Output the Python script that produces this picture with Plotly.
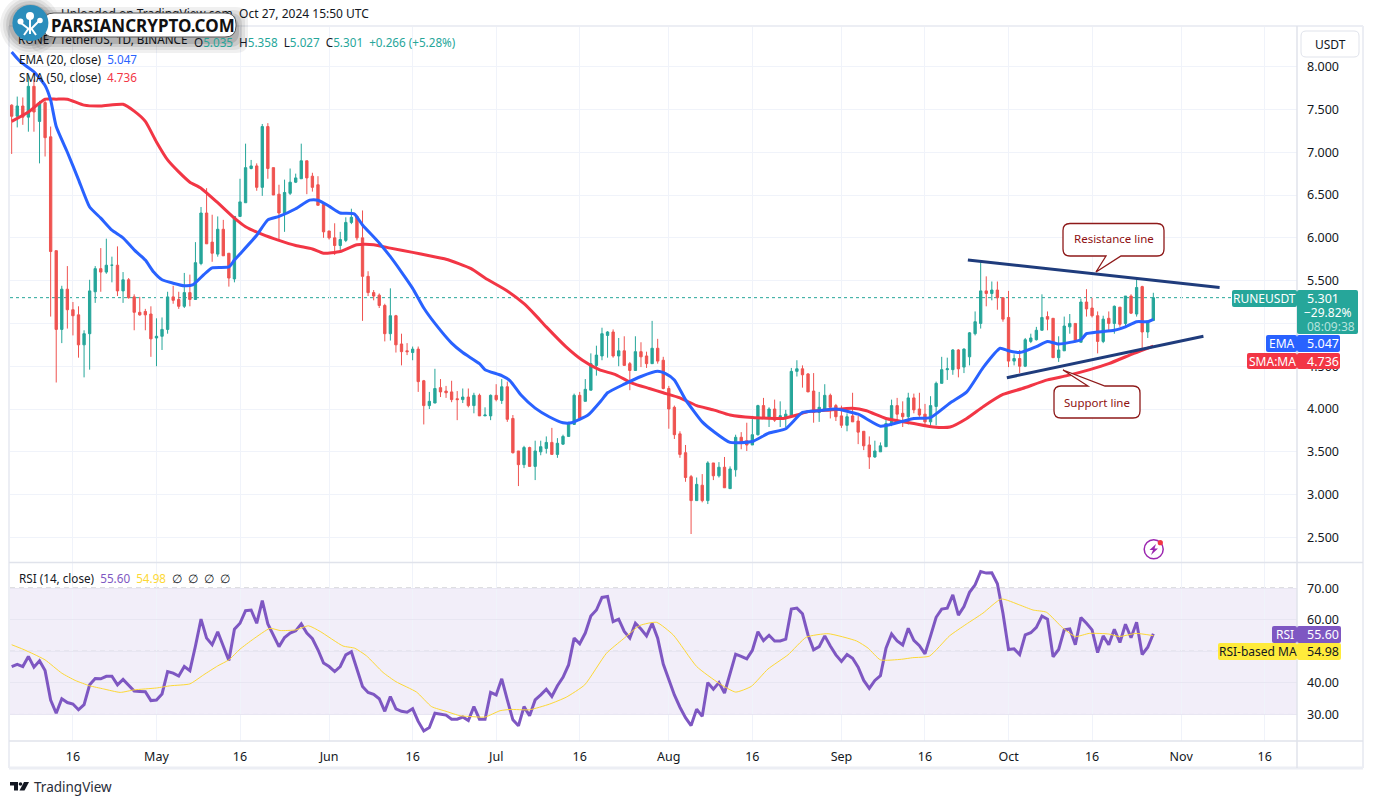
import pandas as pd
import plotly.graph_objects as go

W, H = 1373, 804
START = pd.Timestamp("2024-04-05")

opens = [
 7.55,7.42,7.54,7.41,7.77,7.36,7.58,7.18,5.85,4.93,
 5.40,5.16,5.10,4.75,4.88,5.37,5.64,5.60,5.68,5.68,
 5.38,5.51,5.31,5.13,5.14,5.11,4.83,4.85,4.93,5.31,
 5.28,5.20,5.36,5.28,5.70,6.29,5.95,5.81,6.10,5.82,
 5.52,6.25,6.41,6.81,6.84,6.59,7.30,6.82,6.51,6.29,
 6.52,6.65,6.69,6.90,6.72,6.62,6.39,6.08,6.00,5.91,
 5.97,6.18,6.25,6.00,5.55,5.36,5.33,5.21,4.88,5.09,
 4.76,4.68,4.66,4.70,4.33,4.04,4.07,4.25,4.21,4.20,
 4.12,4.11,4.14,4.04,4.16,3.92,3.92,4.16,4.10,4.26,
 3.89,3.51,3.35,3.55,3.33,3.50,3.54,3.61,3.47,3.59,
 3.68,3.82,4.16,4.09,4.22,4.51,4.62,4.86,4.90,4.62,
 4.68,4.53,4.45,4.67,4.62,4.53,4.71,4.57,4.24,4.02,
 3.71,3.49,3.21,2.93,3.11,2.93,3.37,3.22,3.32,3.07,
 3.29,3.67,3.63,3.58,3.70,4.04,3.90,4.00,3.91,3.90,
 3.92,4.44,4.47,4.41,4.21,3.96,4.00,4.16,4.04,3.92,
 3.81,3.92,3.86,3.74,3.58,3.44,3.50,3.56,3.82,4.04,
 3.95,3.91,4.13,4.00,3.94,3.85,4.03,4.30,4.46,4.46,
 4.69,4.49,4.61,4.88,5.00,5.38,5.35,5.39,5.30,5.07,
 4.56,4.59,4.50,4.79,4.81,4.92,5.08,5.06,4.60,4.68,
 4.96,5.00,4.78,5.25,5.18,5.09,4.79,5.06,5.00,5.19,
 5.00,5.32,5.11,5.43,4.90,5.035]
closes = [
 7.42,7.54,7.41,7.77,7.47,7.58,7.17,5.84,4.93,5.40,
 5.16,5.09,4.75,4.88,5.38,5.64,5.60,5.68,5.68,5.38,
 5.51,5.30,5.13,5.10,5.10,4.82,4.85,4.93,5.31,5.27,
 5.20,5.36,5.28,5.71,6.29,5.93,5.82,6.10,5.79,5.53,
 6.25,6.42,6.82,6.84,6.59,7.30,6.81,6.50,6.29,6.53,
 6.65,6.70,6.90,6.70,6.59,6.38,6.07,6.00,5.91,5.98,
 6.18,6.24,6.00,5.55,5.36,5.32,5.21,4.88,5.09,4.75,
 4.67,4.67,4.70,4.32,4.04,4.09,4.24,4.20,4.19,4.11,
 4.11,4.14,4.04,4.16,3.92,3.93,4.16,4.11,4.26,3.88,
 3.49,3.35,3.55,3.33,3.51,3.56,3.61,3.47,3.60,3.68,
 3.84,4.16,3.89,4.23,4.53,4.63,4.88,4.90,4.62,4.68,
 4.51,4.45,4.67,4.61,4.53,4.71,4.56,4.24,4.00,3.70,
 3.47,3.20,2.93,3.12,2.93,3.37,3.22,3.32,3.08,3.30,
 3.67,3.60,3.58,3.70,4.04,3.90,4.00,3.87,3.92,3.94,
 4.44,4.47,4.40,4.20,3.96,4.02,4.16,4.02,3.91,3.81,
 3.91,3.85,3.73,3.57,3.44,3.51,3.57,3.83,4.04,3.94,
 3.91,4.13,3.99,3.93,3.85,4.04,4.30,4.46,4.47,4.69,
 4.47,4.70,4.89,5.02,5.38,5.35,5.39,5.30,5.05,4.56,
 4.59,4.50,4.81,4.83,4.92,5.07,5.05,4.60,4.69,4.97,
 5.00,4.79,5.25,5.17,5.09,4.79,5.05,5.00,5.20,4.99,
 5.32,5.12,5.42,4.90,5.03,5.301]
highs = [
 7.56,7.65,7.64,7.90,7.85,7.60,7.63,7.30,5.85,5.44,
 5.67,5.25,5.20,4.92,5.51,5.67,5.88,5.99,5.78,5.90,
 5.60,5.53,5.34,5.31,5.17,5.20,5.06,5.07,5.37,5.44,
 5.37,5.59,5.57,5.95,6.36,6.58,6.27,6.25,6.21,5.82,
 6.25,6.69,7.10,6.91,6.87,7.33,7.34,6.82,6.62,6.68,
 6.81,6.75,7.10,6.90,6.76,6.72,6.39,6.08,6.17,6.07,
 6.24,6.34,6.27,6.32,5.61,5.39,5.35,5.23,5.41,5.10,
 4.88,4.77,4.73,4.73,4.34,4.20,4.47,4.35,4.27,4.33,
 4.21,4.24,4.24,4.19,4.18,4.02,4.17,4.29,4.35,4.32,
 3.93,3.51,3.57,3.56,3.63,3.63,3.68,3.78,3.66,3.70,
 3.85,4.18,4.20,4.35,4.65,4.74,4.95,4.91,4.93,4.83,
 4.85,4.55,4.85,4.78,4.67,5.03,4.82,4.61,4.27,4.04,
 3.74,3.58,3.23,3.20,3.24,3.39,3.37,3.38,3.44,3.33,
 3.70,3.73,3.84,3.92,4.05,4.13,4.02,4.11,4.09,3.99,
 4.48,4.57,4.51,4.42,4.42,4.20,4.29,4.18,4.06,4.04,
 3.95,4.19,3.92,3.74,3.68,3.63,3.61,3.89,4.11,4.13,
 4.09,4.19,4.18,4.19,4.06,4.15,4.32,4.61,4.60,4.70,
 4.70,4.71,4.90,5.14,5.72,5.55,5.49,5.49,5.30,5.38,
 4.64,4.69,4.83,4.88,4.96,5.34,5.14,5.06,4.85,5.08,
 5.11,5.00,5.29,5.40,5.30,5.14,5.09,5.14,5.21,5.19,
 5.32,5.34,5.53,5.44,5.03,5.358]
lows = [
 6.98,7.29,7.32,7.24,7.24,6.87,6.95,5.08,4.31,4.77,
 4.94,4.86,4.60,4.37,4.46,5.24,5.37,5.58,5.48,5.32,
 5.24,5.29,4.92,5.09,4.92,4.61,4.50,4.69,4.88,5.23,
 5.17,5.18,5.20,5.28,5.68,5.93,5.72,5.78,5.79,5.43,
 5.48,6.25,6.41,6.80,6.55,6.49,6.69,6.50,5.97,6.07,
 6.50,6.64,6.69,6.51,6.54,6.38,6.00,5.98,5.80,5.86,
 5.95,6.16,5.97,5.03,5.32,5.27,5.18,4.79,4.80,4.66,
 4.51,4.63,4.57,4.20,3.82,4.00,4.07,4.14,4.13,4.08,
 3.87,4.07,4.02,3.95,3.92,3.92,3.87,4.09,4.06,3.85,
 3.48,3.10,3.31,3.33,3.17,3.46,3.48,3.47,3.43,3.58,
 3.68,3.82,3.87,4.09,4.22,4.39,4.57,4.60,4.60,4.50,
 4.51,4.22,4.45,4.49,4.48,4.53,4.53,4.23,3.77,3.65,
 3.43,3.15,2.54,2.93,2.91,2.89,3.17,3.20,3.08,3.07,
 3.21,3.53,3.51,3.58,3.69,3.90,3.79,3.85,3.79,3.79,
 3.92,4.38,4.25,4.20,3.84,3.85,4.00,3.89,3.86,3.78,
 3.74,3.85,3.59,3.52,3.30,3.43,3.50,3.56,3.80,3.85,
 3.79,3.82,3.95,3.91,3.81,3.80,3.81,4.30,4.34,4.40,
 4.37,4.42,4.51,4.86,4.94,5.20,5.27,5.16,5.02,4.49,
 4.51,4.42,4.49,4.77,4.80,4.92,4.92,4.60,4.55,4.68,
 4.88,4.78,4.78,5.08,5.07,4.65,4.77,4.90,4.88,4.96,
 4.96,5.11,5.08,4.69,4.83,5.027]

sma_day = [0,3,6,8,10,13,16,20,22,24,26,28,30,32,34,37,40,42,45,48,51,54,56,59,62,65,68,72,75,78,82.5,85,89,92,94,96,99.5,102.5,105.5,108.5,111.5,114.5,117,120,123,126,129,133,138.5,141,143,147,151,153.5,157,162,165.5,168.5,171.5,174.5,178,181.5,186,189.5,193.6,197,201.5,205]
sma_val = [7.36,7.47,7.62,7.62,7.62,7.55,7.54,7.56,7.48,7.36,7.12,6.91,6.77,6.65,6.58,6.41,6.23,6.13,6.04,5.97,5.91,5.87,5.82,5.84,5.92,5.92,5.88,5.83,5.79,5.75,5.64,5.53,5.38,5.23,5.10,4.96,4.73,4.57,4.46,4.40,4.30,4.24,4.19,4.13,4.04,3.99,3.93,3.90,3.89,3.93,3.97,3.99,4.01,3.98,3.89,3.83,3.79,3.79,3.89,4.03,4.17,4.24,4.34,4.39,4.46,4.53,4.65,4.736]

ema_day = [0,1.5,4,6,7,8,10,12,14,16,18,20,22,24,25.5,27,29,31,32.5,34.5,36,39,40,44,46,48,51,53.5,55,57,59,61.5,63,66,68,70,72,74,76,79,81,84,85,88,89.5,91.5,94,96.5,99,100.5,103.5,106,107,110,113,116,117.5,119,121,124,126,129,133,136,139,142,145,148,152,156,159,162,165,168.5,171.5,174.5,177.5,179,181,184,186,188,192,193,195,198,200,202,204,205]
ema_val = [8.17,8.06,7.94,7.78,7.61,7.30,7.00,6.68,6.36,6.23,6.09,6.00,5.86,5.74,5.60,5.51,5.47,5.44,5.45,5.57,5.65,5.66,5.74,6.03,6.21,6.25,6.34,6.44,6.44,6.37,6.29,6.28,6.15,5.94,5.78,5.60,5.41,5.18,5.00,4.77,4.66,4.53,4.46,4.39,4.33,4.16,4.01,3.91,3.84,3.84,3.93,4.11,4.19,4.29,4.38,4.44,4.41,4.34,4.11,3.85,3.74,3.61,3.62,3.72,3.77,3.96,3.98,4.00,3.94,3.80,3.84,3.89,3.90,4.07,4.20,4.49,4.71,4.68,4.66,4.73,4.79,4.76,4.81,4.88,4.90,4.92,4.96,5.02,5.02,5.047]

rsi_val = [
 45.2,45.9,45.2,48.4,45.0,47.0,43.9,34.6,30.4,35.0,
 33.8,33.3,31.5,33.1,39.4,41.4,41.3,42.1,42.1,39.4,
 41.1,39.1,37.4,37.3,37.2,34.4,34.6,36.5,43.6,43.1,
 42.2,45.2,43.9,51.7,60.2,54.2,52.1,56.2,51.5,47.1,
 57.0,58.9,62.9,63.1,58.9,66.1,58.7,54.9,51.5,54.4,
 55.8,56.5,58.7,55.8,54.0,50.5,46.3,45.2,43.6,45.2,
 48.9,49.9,44.7,38.9,37.0,36.4,35.0,31.0,35.7,31.8,
 31.0,30.7,31.8,27.8,24.8,25.9,30.4,30.0,29.8,28.5,
 28.5,29.2,28.1,32.5,28.5,28.5,37.0,36.2,41.3,34.6,
 28.3,26.4,32.5,29.6,34.6,36.2,38.0,35.7,39.1,41.8,
 45.7,54.2,52.4,55.8,61.2,63.1,67.1,67.4,59.4,60.2,
 56.3,54.2,58.9,57.1,54.9,58.9,54.2,46.0,41.0,36.2,
 32.3,29.0,26.5,31.7,29.4,40.1,38.0,40.1,36.8,42.6,
 49.1,48.4,47.6,50.3,56.2,53.4,55.1,53.3,53.3,53.9,
 63.4,63.7,61.9,55.2,50.5,51.5,54.9,51.7,48.9,46.8,
 49.0,47.8,45.0,40.8,38.3,40.8,42.3,51.0,55.5,53.3,
 52.0,57.3,53.5,51.8,49.2,54.9,60.8,63.4,63.7,67.9,
 61.5,64.2,68.7,71.1,75.3,74.8,74.9,71.4,62.1,50.6,
 50.8,49.0,55.2,55.9,57.6,61.2,60.2,48.3,50.6,56.8,
 57.1,52.1,60.7,58.9,56.8,49.6,54.9,52.1,57.0,52.8,
 58.6,54.3,59.2,49.0,51.3,55.60]

rsi_ma_day = [0,2,4,6,9,11.4,14,16.5,19.5,22,26,28.5,32,34.5,37,39,41,43.4,46.4,48.2,51,53.3,55.4,59.5,61.6,63.7,66.7,69,72.7,75.4,78,80.5,82,85,87.7,89.5,93,96.6,99.6,102.9,106.8,109.8,112.8,115.8,118.8,123,127,130,132.8,135.8,139.4,142.7,146.6,151.7,153.8,156,159.8,161.8,164.8,168.4,171.4,174.4,177.7,181,183.4,185.8,188.7,191,193.5,197,198.9,201.9,205]
rsi_ma_val = [52.1,50.7,49.1,47.3,43.1,40.8,39.1,38.1,37.0,37.8,38.4,39.1,39.7,42.6,45.4,47.3,50.7,53.9,57.3,56.6,56.8,58.1,56.3,51.7,51.0,48.6,43.3,40.4,37.1,32.5,31.0,29.6,29.4,29.2,31.2,31.6,31.5,33.3,35.5,39.4,49.4,53.9,58.2,59.2,55.2,45.2,39.9,37.1,38.9,44.4,48.9,54.5,55.6,53.3,51.0,47.3,47.5,48.0,48.5,54.9,58.6,62.1,66.6,64.7,63.1,62.4,57.5,54.7,55.7,55.5,54.7,55.7,54.98]

resistance_day = [171.7, 216.9]
resistance_val = [5.74, 5.42]
support_day = [178.7, 214.0]
support_val = [4.366, 4.85]

price_ticks = [2.5,3,3.5,4,4.5,5,5.5,6,6.5,7,7.5,8]
rsi_ticks = [30,40,60,70]
rsi_grid = [30,40,50,60,70]
date_ticks = ["2024-04-16","2024-05-01","2024-05-16","2024-06-01","2024-06-16","2024-07-01","2024-07-16",
              "2024-08-01","2024-08-16","2024-09-01","2024-09-16","2024-10-01","2024-10-16","2024-11-01","2024-11-16"]
date_labels = ["16","May","16","Jun","16","Jul","16","Aug","16","Sep","16","Oct","16","Nov","16"]

FONT = "Noto Sans"
INK = "#131722"
GRID = "#f0f3fa"
BORDER = "#e0e3eb"
FRAME = "#eceef4"
UP, DOWN = "#26a69a", "#ef5350"
BLUE, RED, PURPLE, YEL = "#2962ff", "#f23645", "#7e57c2", "#ffeb3b"

def day(d):
    return [START + pd.Timedelta(days=float(v)) for v in d]

dates = day(range(len(opens)))
x_range = [START + pd.Timedelta(days=-0.3), START + pd.Timedelta(days=230.8)]

fig = go.Figure()
fig.add_trace(go.Candlestick(x=dates, open=opens, high=highs, low=lows, close=closes,
    increasing=dict(line=dict(color=UP, width=1), fillcolor=UP),
    decreasing=dict(line=dict(color=DOWN, width=1), fillcolor=DOWN),
    showlegend=False, xaxis="x", yaxis="y"))
fig.add_trace(go.Scatter(x=day(sma_day), y=sma_val, mode="lines", line=dict(color=RED, width=3, shape="spline", smoothing=0.5), xaxis="x", yaxis="y", showlegend=False))
fig.add_trace(go.Scatter(x=day(ema_day), y=ema_val, mode="lines", line=dict(color=BLUE, width=3, shape="spline", smoothing=0.5), xaxis="x", yaxis="y", showlegend=False))
fig.add_trace(go.Scatter(x=day(resistance_day), y=resistance_val, mode="lines", line=dict(color="#1f3c7c", width=3), xaxis="x", yaxis="y", showlegend=False))
fig.add_trace(go.Scatter(x=day(support_day), y=support_val, mode="lines", line=dict(color="#1f3c7c", width=3), xaxis="x", yaxis="y", showlegend=False))
fig.add_trace(go.Scatter(x=dates, y=rsi_val, mode="lines", line=dict(color=PURPLE, width=3), xaxis="x2", yaxis="y2", showlegend=False))
fig.add_trace(go.Scatter(x=day(rsi_ma_day), y=rsi_ma_val, mode="lines", line=dict(color="#fdd835", width=1, shape="spline", smoothing=0.5), xaxis="x2", yaxis="y2", showlegend=False))

def X(p): return p / W
def Y(p): return 1 - p / H

# Header lines that sit under the watermark: free axes spanning the page in pixels
fig.add_trace(go.Scatter(x=[61], y=[15], mode="text", textposition="middle right",
    text=["Uploaded on TradingView.com, Oct 27, 2024 15:50 UTC"],
    textfont=dict(family=FONT, size=12, color=INK), xaxis="x3", yaxis="y3", showlegend=False, cliponaxis=False))
fig.add_trace(go.Scatter(x=[18], y=[41.5], mode="text", textposition="middle right",
    text=["RUNE / TetherUS, 1D, BINANCE"], textfont=dict(family=FONT, size=11.7, color=INK),
    xaxis="x3", yaxis="y3", showlegend=False, cliponaxis=False))

shapes, notes = [], []

def rrect(x0, y0, x1, y1, r):
    return (f"M {X(x0+r)} {Y(y0)} L {X(x1-r)} {Y(y0)} Q {X(x1)} {Y(y0)} {X(x1)} {Y(y0+r)} "
            f"L {X(x1)} {Y(y1-r)} Q {X(x1)} {Y(y1)} {X(x1-r)} {Y(y1)} "
            f"L {X(x0+r)} {Y(y1)} Q {X(x0)} {Y(y1)} {X(x0)} {Y(y1-r)} "
            f"L {X(x0)} {Y(y0+r)} Q {X(x0)} {Y(y0)} {X(x0+r)} {Y(y0)} Z")

def box(x0, y0, x1, y1, r=2, fill=None, line=None, lw=1):
    shapes.append(dict(type="path", xref="paper", yref="paper", path=rrect(x0, y0, x1, y1, r),
                       fillcolor=fill or "rgba(0,0,0,0)", line=dict(color=line or "rgba(0,0,0,0)", width=lw if line else 0), layer="above"))

def circle(cx, cy, r, fill=None, line=None, lw=1):
    shapes.append(dict(type="circle", xref="paper", yref="paper", x0=X(cx-r), x1=X(cx+r), y0=Y(cy+r), y1=Y(cy-r),
                       fillcolor=fill or "rgba(0,0,0,0)", line=dict(color=line or "rgba(0,0,0,0)", width=lw if line else 0), layer="above"))

def seg(x0, y0, x1, y1, color, lw=1, dash=None):
    shapes.append(dict(type="line", xref="paper", yref="paper", x0=X(x0), x1=X(x1), y0=Y(y0), y1=Y(y1),
                       line=dict(color=color, width=lw, dash=dash), layer="above"))

def poly(pts, fill=None, line=None, lw=1):
    p = "M " + " L ".join(f"{X(a)} {Y(b)}" for a, b in pts) + " Z"
    shapes.append(dict(type="path", xref="paper", yref="paper", path=p, fillcolor=fill or "rgba(0,0,0,0)",
                       line=dict(color=line or "rgba(0,0,0,0)", width=lw if line else 0), layer="above"))

def callout(x0, y0, x1, y1, r, tip, a, b, top):
    """Rounded box with a pointer to tip, the pointer's base between a and b on the top or bottom edge."""
    if top:
        mid = f"L {X(a)} {Y(y0)} L {X(tip[0])} {Y(tip[1])} L {X(b)} {Y(y0)} "
        low = ""
    else:
        mid = ""
        low = f"L {X(b)} {Y(y1)} L {X(tip[0])} {Y(tip[1])} L {X(a)} {Y(y1)} "
    p = (f"M {X(x0+r)} {Y(y0)} {mid}L {X(x1-r)} {Y(y0)} Q {X(x1)} {Y(y0)} {X(x1)} {Y(y0+r)} "
         f"L {X(x1)} {Y(y1-r)} Q {X(x1)} {Y(y1)} {X(x1-r)} {Y(y1)} {low}"
         f"L {X(x0+r)} {Y(y1)} Q {X(x0)} {Y(y1)} {X(x0)} {Y(y1-r)} "
         f"L {X(x0)} {Y(y0+r)} Q {X(x0)} {Y(y0)} {X(x0+r)} {Y(y0)} Z")
    shapes.append(dict(type="path", xref="paper", yref="paper", path=p, fillcolor="#ffffff",
                       line=dict(color="#8e1a1a", width=1.3), layer="above"))

def note(x, y, text, size=12, color=INK, anchor="left", family=FONT):
    notes.append(dict(xref="paper", yref="paper", x=X(x), y=Y(y), text=text, showarrow=False, xanchor=anchor, yanchor="middle",
                      font=dict(family=family, size=size, color=color), borderpad=0))

# Frame
seg(9, 26, 1363, 26, FRAME, 2)
seg(9, 768, 1363, 768, FRAME, 3)
seg(9, 26, 9, 768, FRAME, 2)
seg(1363, 26, 1363, 768, FRAME, 2)
seg(1297, 26, 1297, 768, BORDER, 1.5)
seg(9, 562.5, 1363, 562.5, BORDER, 1.5)
seg(9, 741, 1363, 741, BORDER, 1.5)

# below-trace shapes tied to the data axes
shapes.append(dict(type="line", xref="x domain", yref="y", x0=0, x1=1, y0=closes[-1], y1=closes[-1],
                   line=dict(color=UP, width=1, dash="dot"), layer="below"))
shapes.append(dict(type="rect", xref="x2 domain", yref="y2", x0=0, x1=1, y0=30, y1=70,
                   fillcolor="rgba(126,87,194,0.1)", line=dict(width=0), layer="below"))
for lv, col in ((70, "#787b86"), (50, "#a9abb3"), (30, "#787b86")):
    shapes.append(dict(type="line", xref="x2 domain", yref="y2", x0=0, x1=1, y0=lv, y1=lv,
                       line=dict(color=col, width=1, dash="5px,4px"), layer="below"))

# USDT button
box(1301, 31, 1359, 57, 5, "#ffffff", BORDER, 1)
note(1330, 45, "USDT", 12, INK, "center")

# Legend
note(18, 59.5, f"EMA (20, close)  <span style='color:{BLUE}'>5.047</span>", 11.7)
note(18, 76.5, f"SMA (50, close)  <span style='color:{RED}'>4.736</span>", 11.7)
note(18, 577.5, f"RSI (14, close)  <span style='color:{PURPLE}'>55.60</span>  <span style='color:#fdd835'>54.98</span>  <span style='color:#131722'>∅  ∅  ∅  ∅</span>", 11.7)
note(193, 41.5, f"O<span style='color:{UP}'>5.035</span>  H<span style='color:{UP}'>5.358</span>  L<span style='color:{UP}'>5.027</span>  C<span style='color:{UP}'>5.301</span>  <span style='color:{UP}'>+0.266 (+5.28%)</span>", 11.7)

# Price-axis tags
box(1232, 290, 1297, 307, 2, UP)
note(1264.5, 298.5, "RUNEUSDT", 12, "#ffffff", "center")
box(1297, 290, 1358, 334, 2, UP)
note(1306, 298.5, "5.301", 12.5, "#ffffff")
note(1303, 312, "−29.82%", 12, "#ffffff")
note(1306, 326, "08:09:38", 12, "#b5e3dd")
box(1266, 335, 1297, 352, 2, BLUE)
note(1281.5, 343.5, "EMA", 12, "#ffffff", "center")
box(1297, 335, 1340, 352, 2, BLUE)
note(1306, 343.5, "5.047", 12.5, "#ffffff")
box(1247, 353, 1297, 369, 2, RED)
note(1272, 361, "SMA:MA", 12, "#ffffff", "center")
box(1297, 353, 1340, 369, 2, RED)
note(1306, 361, "4.736", 12.5, "#ffffff")
box(1272, 626, 1297, 643, 2, PURPLE)
note(1284.5, 634.5, "RSI", 12, "#ffffff", "center")
box(1297, 626, 1341, 643, 2, PURPLE)
note(1306, 634.5, "55.60", 12.5, "#ffffff")
box(1218, 643, 1297, 660, 2, YEL)
note(1257.5, 651.5, "RSI-based MA", 12, INK, "center")
box(1297, 643, 1341, 660, 2, YEL)
note(1306, 651.5, "54.98", 12.5, INK)

# Callouts
callout(1063, 223.5, 1164, 256, 7, (1096, 272), 1106, 1121, False)
note(1113.5, 239, "Resistance line", 11.5, "#8e1010", "center")
callout(1054, 386, 1140, 418, 7, (1063, 370), 1088, 1105, True)
note(1097, 402, "Support line", 11.5, "#8e1010", "center")

# Flash icon
circle(1153.7, 549.3, 9.5, None, "#9c27b0", 1.5)
poly([(1156, 544), (1149.5, 550), (1153, 550), (1151, 555), (1158, 548.5), (1154.5, 548.5)], "#9c27b0")
circle(1160.3, 542.7, 2.6, "#f23645")

# TradingView logo
poly([(10, 782), (18, 782), (18, 790.5), (14, 790.5), (14, 785.5), (10, 785.5)], INK)
circle(20.5, 784, 1.8, INK)
poly([(24, 782), (29, 782), (24.5, 790.5), (19.5, 790.5)], INK)
note(33, 786.5, "TradingView", 13.5, "#2a2e39")

# Watermark
for k, a in ((12, .06), (9, .07), (6, .09), (3, .12)):
    box(43-k, 15-k+4, 236+k, 37+k+4, 12, f"rgba(0,0,0,{a})")
    circle(30, 25, 18+k, f"rgba(0,0,0,{a})")
box(43, 13, 236, 37, 11, "#ffffff", "#555555", 1)
circle(30.4, 23, 18, "#2b8dbb")
for (a, b, c, d) in ((30, 34, 30, 18), (30, 30, 21, 23), (30, 30, 39, 21), (24, 35, 29, 28), (36, 35, 31, 28)):
    seg(a, b, c, d, "#ffffff", 2)
circle(30, 16, 4, "#ffffff"); circle(20.5, 21.5, 3, "#ffffff"); circle(40, 20.5, 2.8, "#ffffff")
note(50, 25.5, "<b>PARSIANCRYPTO.COM</b>", 17, "#111111")

axis_common = dict(tickmode="array", tickvals=date_ticks, range=x_range, showgrid=True, gridcolor=GRID, gridwidth=1,
                   zeroline=False, showline=False, ticks="")
fig.update_layout(
    width=W, height=H, margin=dict(l=0, r=0, t=0, b=0), paper_bgcolor="#ffffff", plot_bgcolor="rgba(0,0,0,0)",
    showlegend=False, boxgap=0.4, hovermode=False, font=dict(family=FONT, color=INK, size=12),
    xaxis=dict(domain=[X(10), X(1297)], anchor="y", ticktext=[""]*len(date_ticks), showticklabels=False,
               rangeslider=dict(visible=False), **axis_common),
    xaxis2=dict(domain=[X(10), X(1297)], anchor="y2", ticktext=date_labels, showticklabels=True,
                tickfont=dict(family=FONT, size=12.5, color=INK), ticklabelstandoff=6, **axis_common),
    yaxis=dict(domain=[Y(562), Y(27)], range=[2.213, 8.463], side="right", anchor="x", tickmode="array", tickvals=price_ticks,
               ticktext=[f"{v:.3f}" for v in price_ticks], showgrid=True, gridcolor=GRID, zeroline=False, showline=False, ticks="",
               tickfont=dict(family=FONT, size=12.5, color=INK), ticklabelstandoff=9),
    yaxis2=dict(domain=[Y(741), Y(563)], range=[21.6, 78.0], side="right", anchor="x2", tickmode="array", tickvals=rsi_grid,
                ticktext=[f"{v:.2f}" if v in rsi_ticks else "" for v in rsi_grid], showgrid=True, gridcolor="#e8e6f2", zeroline=False, showline=False, ticks="",
                tickfont=dict(family=FONT, size=12.5, color=INK), ticklabelstandoff=9),
    xaxis3=dict(domain=[0, 1], range=[0, W], visible=False, anchor="y3", fixedrange=True),
    yaxis3=dict(domain=[0, 1], range=[H, 0], visible=False, anchor="x3", fixedrange=True),
    shapes=shapes, annotations=notes,
)

fig.write_html("out.html", config=dict(displayModeBar=False),
               post_script="document.body.style.margin='0';document.body.style.overflow='hidden';")
